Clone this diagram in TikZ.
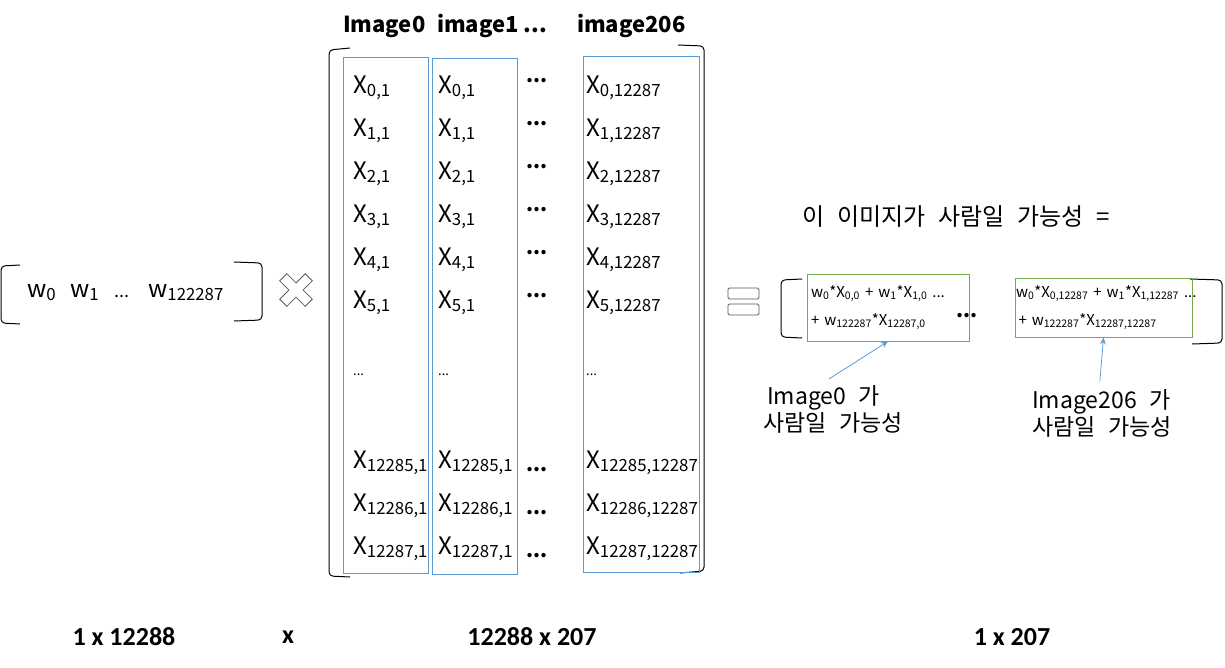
\documentclass[tikz,border=0pt]{standalone}
\usepackage{fontspec}
\setmainfont{Noto Sans CJK KR}
\newfontfamily\krwide[WordSpace=2.4]{Noto Sans CJK KR}
\newfontfamily\dimfont{Carlito}
\usetikzlibrary{positioning, arrows.meta}
\definecolor{colblue}{HTML}{5B9BD5}
\definecolor{resgreen}{HTML}{70AD47}
\definecolor{symgray}{HTML}{595959}

\begin{document}
\begin{tikzpicture}[x=1pt, y=-1pt, font=\fontsize{24}{28}\selectfont,
  brack/.style={draw=black, line width=1pt, rounded corners=4pt},
  colbox/.style={draw=colblue, line width=0.8pt, minimum width=85pt, minimum height=516pt, inner sep=0},
  resbox/.style={draw=resgreen, line width=0.8pt, inner sep=0, font=\fontsize{15}{28}\selectfont, align=left},
  entry/.style={anchor=base west, inner sep=0},
  bigdots/.style={inner sep=0, font=\fontsize{20}{24}\selectfont\bfseries},
  smalldots/.style={anchor=base west, inner sep=0, font=\fontsize{13}{14}\selectfont},
  header/.style={anchor=base west, inner sep=0, font=\fontsize{22}{26}\selectfont\bfseries},
  dimlabel/.style={inner sep=0, font=\dimfont\fontsize{26}{30}\selectfont\bfseries},
  note/.style={inner sep=0, align=left, font=\krwide\fontsize{23}{27}\selectfont},
  annot/.style={-{Stealth[length=7pt, width=6pt]}, colblue, line width=0.8pt}]
  \useasboundingbox (0,0) rectangle (1225,667);

  % weight vector
  \draw[brack] (20,265) -- (1,266) -- (1,323) -- (20,324);
  \draw[brack] (234,262) -- (262,263) -- (262,320) -- (234,321);
  \node[entry] (w0) at (27,297) {w\textsubscript{0}};
  \node[entry] (w1) at (70,297) {w\textsubscript{1}};
  \node[entry, font=\fontsize{18}{20}\selectfont] (wdots) at (114,297) {...};
  \node[entry] (wlast) at (148,297) {w\textsubscript{122287}};

  % times sign
  \draw[symgray, line width=0.8pt, shift={(296,290)}, rotate=45]
    (5,-18) -- (5,-5) -- (18,-5) -- (18,5) -- (5,5) -- (5,18) -- (-5,18)
    -- (-5,5) -- (-18,5) -- (-18,-5) -- (-5,-5) -- (-5,-18) -- cycle;

  % image matrix
  \draw[brack] (350,48) -- (329,50) -- (329,576) -- (350,577);
  \draw[brack] (678,45) -- (704,46) -- (704,571) -- (680,573);
  \node[colbox] (col0) at (385.5,315) {};
  \node[colbox] (col1) at (474.5,316.5) {};
  \node[colbox, minimum width=116pt] (col206) at (641,314.5) {};
  \node[header] (h0) at (343,32) {Image0};
  \node[header] (h1) at (437,32) {image1 ...};
  \node[header] (h206) at (577,32) {image206};

  \foreach \r/\yy in {0/93, 1/136, 2/179, 3/222, 4/265, 5/308, 12285/468, 12286/511, 12287/554} {
    \node[entry] (a\r) at (353,\yy) {X\textsubscript{\r,1}};
    \node[entry] (b\r) at (438,\yy) {X\textsubscript{\r,1}};
    \node[entry] (c\r) at (586,\yy) {X\textsubscript{\r,12287}};
  }
  \foreach \yy in {81, 124, 167, 210, 253, 296, 470, 513, 556}
    \node[bigdots] at (537,\yy) {...};
  \node[smalldots] (adots) at (353,375) {...};
  \node[smalldots] (bdots) at (438,375) {...};
  \node[smalldots] (cdots) at (586,375) {...};

  % equals sign
  \draw[symgray, line width=0.8pt, rounded corners=1.5pt] (728,288) rectangle (759,299);
  \draw[symgray, line width=0.8pt, rounded corners=1.5pt] (728,304) rectangle (759,315);

  % result vector
  \node[anchor=base west, inner sep=0, font=\krwide\fontsize{24}{28}\selectfont] (title) at (802,225)
    {이 이미지가 사람일 가능성 =};
  \draw[brack] (802,279) -- (781,280) -- (781,337) -- (802,338);
  \draw[brack] (1190,279) -- (1222,280) -- (1222,343) -- (1192,344);
  \node[resbox, minimum width=162pt, minimum height=67pt, text width=154pt, inner xsep=4pt] (res0) at (888,307.5)
    {\mbox{w\textsubscript{0}*X\textsubscript{0,0} + w\textsubscript{1}*X\textsubscript{1,0} ...}\\
     + w\textsubscript{122287}*X\textsubscript{12287,0}};
  \node[resbox, minimum width=177pt, minimum height=59pt, text width=175pt, inner xsep=1pt] (res206) at (1103.5,307.5)
    {\mbox{w\textsubscript{0}*X\textsubscript{0,12287} + w\textsubscript{1}*X\textsubscript{1,12287} ...}\\
     \,+ w\textsubscript{122287}*X\textsubscript{12287,12287}};
  \node[bigdots] (rdots) at (967,316) {...};

  \node[note, anchor=north west] (lab0) at (763,385) {\,Image0 가\\사람일 가능성};
  \node[note, anchor=north west] (lab206) at (1032,389) {Image206 가\\사람일 가능성};
  \draw[annot] (lab0.north) ++(-4,-6) -- (res0.south);
  \draw[annot] (lab206.north) ++(-2,-8) -- (res206.south);

  % sizes
  \node[dimlabel] (dimw) at (124,637) {1 x 12288};
  \node[dimlabel] (dimop) at (288,637) {x};
  \node[dimlabel] (dimx) at (532,637) {12288 x 207};
  \node[dimlabel] (dimr) at (1012,637) {1 x 207};
\end{tikzpicture}
\end{document}
